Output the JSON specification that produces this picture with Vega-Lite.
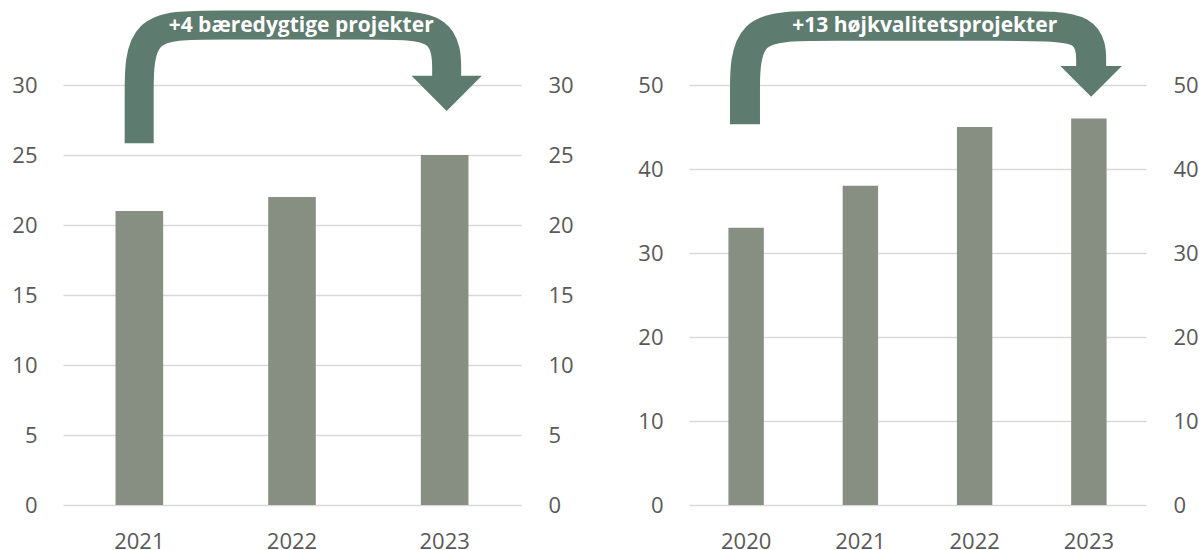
{
  "$schema": "https://vega.github.io/schema/vega-lite/v6.json",
  "padding": {"left": 11, "top": -35, "right": 0, "bottom": 0},
  "background": "white",
  "config": {
    "view": {"stroke": null},
    "font": "Open Sans",
    "axis": {
      "labelFont": "Open Sans",
      "labelFontSize": 22,
      "labelColor": "#595959",
      "domain": false,
      "ticks": false,
      "gridColor": "#d9d9d9",
      "gridWidth": 1.5,
      "title": null
    }
  },
  "spacing": 63,
  "hconcat": [
    {
      "width": 458,
      "height": 420,
      "layer": [
        {
          "data": {"values": [
            {"year": "2021", "value": 21},
            {"year": "2022", "value": 22},
            {"year": "2023", "value": 25}
          ]},
          "mark": {"type": "bar", "color": "#878f82"},
          "encoding": {
            "x": {"field": "year", "type": "ordinal", "scale": {"paddingInner": 0.688, "paddingOuter": 0.344},
                  "axis": {"labelAngle": 0, "labelPadding": 26, "grid": false}},
            "y": {"field": "value", "type": "quantitative", "scale": {"domain": [0, 30], "nice": false},
                  "axis": {"orient": "left", "values": [0, 5, 10, 15, 20, 25, 30], "labelPadding": 26, "grid": true}}
          }
        },
        {
          "data": {"values": [
            {"u": 0.499, "v": 25.84, "i": 0},
            {"u": 0.499, "v": 29.3, "i": 1},
            {"u": 0.499, "v": 34.29, "i": 2},
            {"u": 0.96, "v": 34.29, "i": 3},
            {"u": 2.05, "v": 34.29, "i": 4},
            {"u": 2.513, "v": 34.29, "i": 5},
            {"u": 2.513, "v": 30.64, "i": 6}
          ]},
          "mark": {"type": "line", "color": "#5e7b6f", "strokeWidth": 29, "interpolate": "basis", "strokeCap": "butt", "clip": false},
          "encoding": {
            "x": {"field": "u", "type": "quantitative", "scale": {"domain": [0, 3], "nice": false, "zero": false}, "axis": null},
            "y": {"field": "v", "type": "quantitative", "scale": {"domain": [0, 30], "nice": false},
                  "axis": {"orient": "right", "values": [0, 5, 10, 15, 20, 25, 30], "labelPadding": 27, "grid": false}},
            "order": {"field": "i", "type": "quantitative"}
          }
        },
        {
          "data": {"values": [{"u": 2.513, "v": 29.4}]},
          "mark": {"type": "point", "shape": "M-1,-0.5L1,-0.5L0,0.5Z", "filled": true, "opacity": 1, "color": "#5e7b6f", "size": 4942, "strokeWidth": 0, "clip": false},
          "encoding": {
            "x": {"field": "u", "type": "quantitative", "scale": {"domain": [0, 3], "nice": false, "zero": false}, "axis": null},
            "y": {"field": "v", "type": "quantitative", "scale": {"domain": [0, 30], "nice": false}, "axis": null}
          }
        },
        {
          "data": {"values": [{"u": 1.56, "v": 33.79, "label": "+4 bæredygtige projekter"}]},
          "mark": {"type": "text", "font": "Open Sans", "fontWeight": "bold", "fontSize": 21, "color": "white", "align": "center", "baseline": "alphabetic", "clip": false},
          "encoding": {
            "x": {"field": "u", "type": "quantitative", "scale": {"domain": [0, 3], "nice": false, "zero": false}, "axis": null},
            "y": {"field": "v", "type": "quantitative", "scale": {"domain": [0, 30], "nice": false}, "axis": null},
            "text": {"field": "label"}
          }
        }
      ],
      "resolve": {"scale": {"x": "independent"}, "axis": {"x": "independent", "y": "independent"}}
    },
    {
      "width": 457,
      "height": 420,
      "layer": [
        {
          "data": {"values": [
            {"year": "2020", "value": 33},
            {"year": "2021", "value": 38},
            {"year": "2022", "value": 45},
            {"year": "2023", "value": 46}
          ]},
          "mark": {"type": "bar", "color": "#878f82"},
          "encoding": {
            "x": {"field": "year", "type": "ordinal", "scale": {"paddingInner": 0.69, "paddingOuter": 0.345},
                  "axis": {"labelAngle": 0, "labelPadding": 26, "grid": false}},
            "y": {"field": "value", "type": "quantitative", "scale": {"domain": [0, 50], "nice": false},
                  "axis": {"orient": "left", "values": [0, 10, 20, 30, 40, 50], "labelPadding": 26, "grid": true}}
          }
        },
        {
          "data": {"values": [
            {"u": 0.49, "v": 45.32, "i": 0},
            {"u": 0.49, "v": 48.7, "i": 1},
            {"u": 0.49, "v": 57.04, "i": 2},
            {"u": 1.1, "v": 57.04, "i": 3},
            {"u": 2.91, "v": 57.04, "i": 4},
            {"u": 3.52, "v": 57.04, "i": 5},
            {"u": 3.52, "v": 52.26, "i": 6}
          ]},
          "mark": {"type": "line", "color": "#5e7b6f", "strokeWidth": 30, "interpolate": "basis", "strokeCap": "butt", "clip": false},
          "encoding": {
            "x": {"field": "u", "type": "quantitative", "scale": {"domain": [0, 4], "nice": false, "zero": false}, "axis": null},
            "y": {"field": "v", "type": "quantitative", "scale": {"domain": [0, 50], "nice": false},
                  "axis": {"orient": "right", "values": [0, 10, 20, 30, 40, 50], "labelPadding": 27, "grid": false}},
            "order": {"field": "i", "type": "quantitative"}
          }
        },
        {
          "data": {"values": [{"u": 3.52, "v": 50.43}]},
          "mark": {"type": "point", "shape": "M-1,-0.5L1,-0.5L0,0.5Z", "filled": true, "opacity": 1, "color": "#5e7b6f", "size": 3795, "strokeWidth": 0, "clip": false},
          "encoding": {
            "x": {"field": "u", "type": "quantitative", "scale": {"domain": [0, 4], "nice": false, "zero": false}, "axis": null},
            "y": {"field": "v", "type": "quantitative", "scale": {"domain": [0, 50], "nice": false}, "axis": null}
          }
        },
        {
          "data": {"values": [{"u": 2.063, "v": 56.31, "label": "+13 højkvalitetsprojekter"}]},
          "mark": {"type": "text", "font": "Open Sans", "fontWeight": "bold", "fontSize": 21, "color": "white", "align": "center", "baseline": "alphabetic", "clip": false},
          "encoding": {
            "x": {"field": "u", "type": "quantitative", "scale": {"domain": [0, 4], "nice": false, "zero": false}, "axis": null},
            "y": {"field": "v", "type": "quantitative", "scale": {"domain": [0, 50], "nice": false}, "axis": null},
            "text": {"field": "label"}
          }
        }
      ],
      "resolve": {"scale": {"x": "independent"}, "axis": {"x": "independent", "y": "independent"}}
    }
  ]
}
